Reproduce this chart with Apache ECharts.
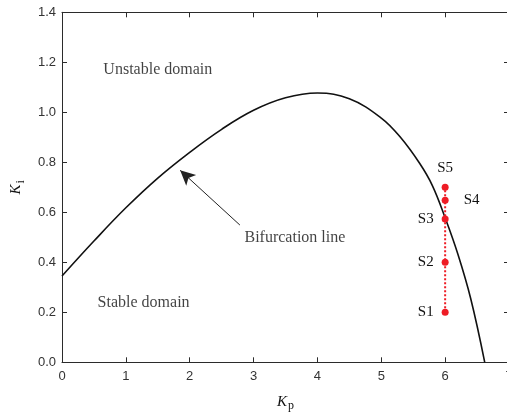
<!DOCTYPE html>
<html>
<head>
<meta charset="utf-8">
<script src="https://cdn.jsdelivr.net/npm/echarts@6/dist/echarts.min.js"></script>
<style>
  html, body { margin: 0; padding: 0; background: #fff; }
  #chart { width: 507px; height: 412px; }
</style>
</head>
<body>
<div id="chart"></div>
<script>
// Bifurcation boundary in the (Kp, Ki) plane
const kpCurve = [0, 0.5, 1.0, 1.5, 2.0, 2.5, 3.0, 3.5, 4.0, 4.5, 5.0, 5.3, 5.6, 5.8, 6.0, 6.2, 6.4, 6.62];
const kiCurve = [0.345, 0.485, 0.618, 0.737, 0.84, 0.932, 1.008, 1.058, 1.077, 1.054, 0.977, 0.90, 0.796, 0.707, 0.578, 0.432, 0.255, 0.0];

// Operating points S1..S5 at Kp = 6
const pointNames = ['S1', 'S2', 'S3', 'S4', 'S5'];
const pointKp = [6, 6, 6, 6, 6];
const pointKi = [0.2, 0.4, 0.573, 0.648, 0.70];
const pointLabelSide = ['left', 'left', 'left', 'right', 'top'];

// Region and curve annotations
const noteText = ['Unstable domain', 'Stable domain', 'Bifurcation line'];
const noteKp = [0.64, 0.55, 2.85];
const noteKi = [1.17, 0.237, 0.497];

// Arrow from the caption to the curve
const arrowFrom = [2.786, 0.549];
const arrowTo = [1.85, 0.768];

const xTicks = [0, 1, 2, 3, 4, 5, 6, 7];
const yMin = 0, yMax = 1.4, yStep = 0.2;

const serif = '"Liberation Serif", "Times New Roman", serif';
const sans = '"Liberation Sans", Arial, sans-serif';
const axisColor = '#2b2b2b';
const textColor = '#111';
const red = '#ee1c25';

const chart = echarts.init(document.getElementById('chart'), null, { renderer: 'canvas' });

const axisBase = {
  axisLine: { show: true, onZero: false, lineStyle: { color: axisColor, width: 1 } },
  axisTick: { show: true, inside: true, length: 5, lineStyle: { color: axisColor } },
  splitLine: { show: false }
};

const nameRich = {
  k: { fontFamily: serif, fontStyle: 'italic', fontSize: 15, color: textColor },
  s: { fontFamily: serif, fontSize: 12, color: textColor, padding: [9, 0, 0, 1] }
};

chart.setOption({
  animation: false,
  backgroundColor: '#fff',
  grid: { left: 62, top: 12.3, width: 447, height: 350, containLabel: false, outerBoundsMode: 'none' },
  xAxis: [
    Object.assign({}, axisBase, {
      type: 'value', min: xTicks[0], max: xTicks[xTicks.length - 1], interval: 1,
      position: 'bottom',
      axisLabel: { color: '#333', fontFamily: sans, fontSize: 13, margin: 8 },
      name: '{k|K}{s|p}', nameLocation: 'middle', nameGap: 29,
      nameTextStyle: { rich: nameRich }
    }),
    Object.assign({}, axisBase, {
      type: 'value', min: xTicks[0], max: xTicks[xTicks.length - 1], interval: 1,
      position: 'top', axisLabel: { show: false }
    })
  ],
  yAxis: [
    Object.assign({}, axisBase, {
      type: 'value', min: yMin, max: yMax, interval: yStep,
      position: 'left',
      axisLabel: { color: '#333', fontFamily: sans, fontSize: 13, margin: 6,
        formatter: v => v.toFixed(1) },
      name: '{k|K}{s|i}', nameLocation: 'middle', nameGap: 32,
      nameTextStyle: { rich: nameRich }
    }),
    Object.assign({}, axisBase, {
      type: 'value', min: yMin, max: yMax, interval: yStep,
      position: 'right', axisLabel: { show: false }
    })
  ],
  series: [
    {
      name: 'Bifurcation line',
      type: 'line',
      data: kpCurve.map((x, i) => [x, kiCurve[i]]),
      smooth: 0.4,
      showSymbol: false,
      lineStyle: { color: '#111', width: 1.6 },
      silent: true,
      z: 3
    },
    {
      name: 'Path',
      type: 'line',
      data: pointKp.map((x, i) => [x, pointKi[i]]),
      showSymbol: false,
      lineStyle: { color: red, width: 2, type: [2, 2] },
      silent: true,
      z: 4
    },
    {
      name: 'Points',
      type: 'scatter',
      data: pointKp.map((x, i) => ({
        value: [x, pointKi[i]],
        label: { position: pointLabelSide[i], distance: pointLabelSide[i] === 'right' ? 15 : 8 }
      })),
      symbol: 'circle',
      symbolSize: 7,
      itemStyle: { color: red, opacity: 1 },
      label: {
        show: true,
        formatter: p => pointNames[p.dataIndex],
        fontFamily: serif, fontSize: 15, color: textColor
      },
      silent: true,
      z: 5
    },
    {
      name: 'Notes',
      type: 'scatter',
      data: noteKp.map((x, i) => [x, noteKi[i]]),
      symbolSize: 1,
      itemStyle: { color: 'rgba(0,0,0,0)' },
      label: {
        show: true, position: 'right', distance: 0,
        formatter: p => noteText[p.dataIndex],
        fontFamily: serif, fontSize: 16, color: textColor
      },
      silent: true,
      markLine: {
        silent: true,
        symbol: ['none', 'arrow'],
        symbolSize: [11, 15],
        label: { show: false },
        lineStyle: { color: '#222', width: 1, type: 'solid' },
        data: [[{ coord: arrowFrom }, { coord: arrowTo }]]
      },
      z: 5
    }
  ]
});
</script>
</body>
</html>
